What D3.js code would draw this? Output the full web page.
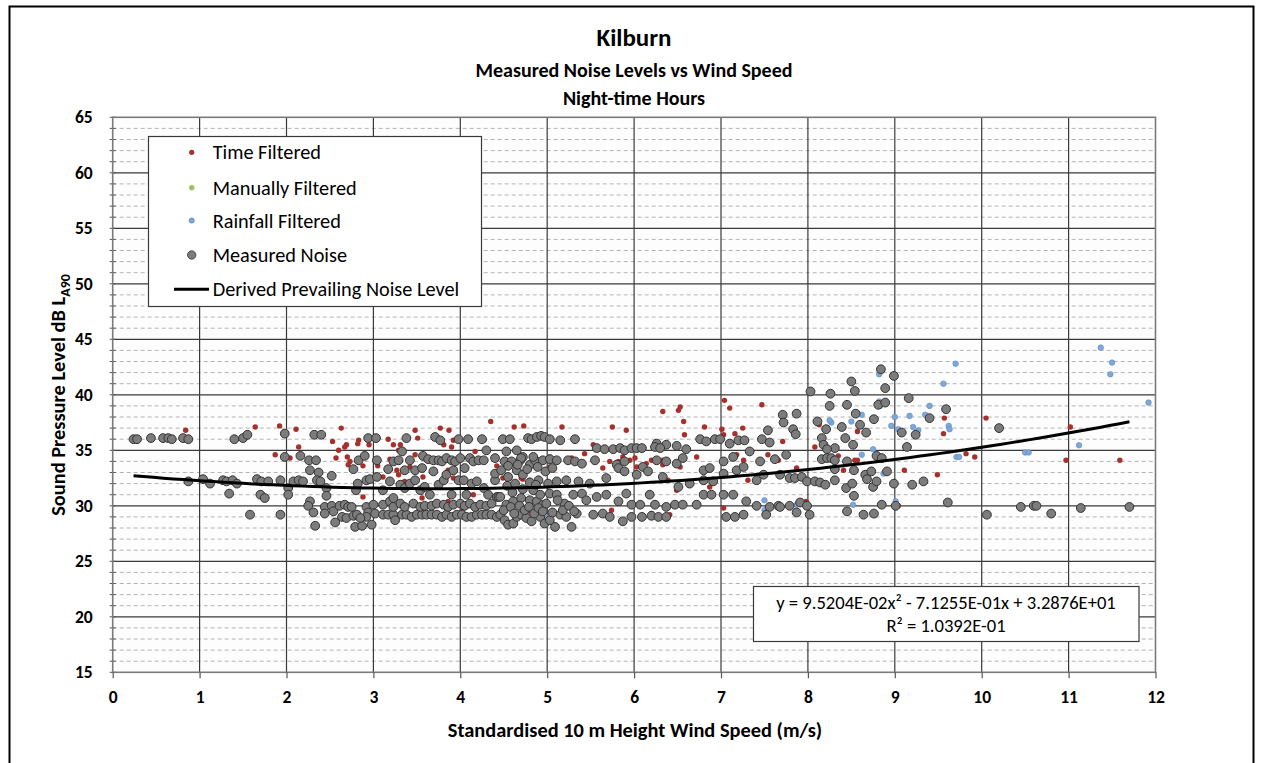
<!DOCTYPE html>
<html>
<head>
<meta charset="utf-8">
<script src="https://cdn.jsdelivr.net/npm/d3@7"></script>
<style>
  html, body { margin: 0; padding: 0; background: #fff; }
  svg { display: block; }
  text { font-family: Carlito, Calibri, Lato, "Open Sans", sans-serif; fill: #000; }
</style>
</head>
<body>
<svg id="chart" width="1263" height="763"></svg>
<script>
// ---- Chart text ----
const titleLines = ["Kilburn", "Measured Noise Levels vs Wind Speed", "Night-time Hours"];
const xAxisTitle = "Standardised 10 m Height Wind Speed (m/s)";
const yAxisTitle = "Sound Pressure Level dB L";
const yAxisSub = "A90";
const xTicks = [0, 1, 2, 3, 4, 5, 6, 7, 8, 9, 10, 11, 12];
const yTicks = [15, 20, 25, 30, 35, 40, 45, 50, 55, 60, 65];
const seriesNames = ["Time Filtered", "Manually Filtered", "Rainfall Filtered", "Measured Noise", "Derived Prevailing Noise Level"];

// Fitted polynomial for the prevailing level: a*x^2 + b*x + c
const fitCoeffs = [9.5204e-02, -7.1255e-01, 3.2876e+01];
const fitR2 = 1.0392e-01;
const fitLabel = ["y = 9.5204E-02x\u00b2 - 7.1255E-01x + 3.2876E+01", "R\u00b2 = 1.0392E-01"];

// ---- Data: [wind speed (m/s), LA90 (dB)] ----
const timeFiltered = [
  [0.84,36.8],[1.64,37.1],[1.92,37.2],[2.11,36.9],[2.14,35.3],[1.87,34.6],[2.04,34.3],[2.63,37.0],[2.53,35.8],
  [2.69,35.5],[2.67,35.3],[2.60,35.0],[2.83,35.9],[2.82,35.6],[2.57,34.3],[2.70,34.4],[2.73,34.0],[2.71,33.7],
  [2.88,33.6],[2.95,35.5],[3.05,33.6],[3.11,32.6],[3.17,36.0],[3.23,35.5],[3.31,35.5],[3.29,35.0],[3.19,34.2],
  [3.27,33.2],[3.29,32.8],[3.48,36.8],[3.51,36.1],[3.48,34.6],[3.36,32.2],[3.42,33.5],[3.57,32.6],[3.77,37.0],
  [3.87,36.8],[3.81,35.5],[3.90,35.3],[3.81,34.1],[3.86,33.2],[3.92,32.5],[4.17,34.9],[4.35,37.6],[4.27,35.9],
  [4.42,33.6],[2.88,30.8],[3.56,30.7],[3.65,30.1],[3.86,30.4],[4.02,29.5],[4.07,31.1],[4.15,31.0],[3.19,33.3],
  [3.92,35.9],
  [4.62,37.1],[4.73,37.2],[5.17,37.1],[5.75,37.1],[5.91,36.8],[6.33,38.5],[6.51,38.6],[6.53,38.9],[6.57,37.6],
  [7.04,39.5],[7.10,38.8],[7.47,39.1],[6.81,37.1],[7.16,36.5],[7.25,37.0],[6.58,36.4],[7.01,36.9],[4.49,32.5],
  [4.70,32.5],[4.80,32.3],[5.03,34.4],[5.11,34.1],[5.28,34.3],[5.43,34.7],[5.53,35.5],[5.64,33.4],[5.72,34.0],
  [5.82,34.0],[5.87,34.4],[5.95,34.1],[6.01,34.3],[6.03,33.5],[6.14,33.8],[6.20,34.1],[6.33,34.1],[6.33,33.7],
  [6.39,32.3],[6.49,31.4],[6.53,33.5],[6.72,34.4],[6.87,31.7],[7.03,36.4],[7.18,34.6],[7.26,34.1],[7.31,32.3],
  [7.54,34.6],[7.66,34.1],[7.03,29.8],[5.74,29.6],[6.20,29.3],[6.41,29.2],[5.15,29.3],[5.20,29.0],[4.80,29.5],
  [4.72,32.4],[5.03,33.5],
  [9.57,37.9],[10.05,37.9],[9.56,36.5],[9.82,34.7],[9.92,34.4],[11.02,37.1],[10.97,34.1],[11.59,34.1],[9.11,33.2],
  [9.49,32.8],[8.57,36.7],[8.54,34.1],[8.57,34.1],[7.71,35.8],[8.08,35.3],[8.41,33.2],[8.35,34.5],[8.13,37.3],
  [7.98,30.4],[9.04,30.0],[7.87,33.4]
];

const manuallyFiltered = [];

const rainfallFiltered = [
  [5.00,28.9],[7.50,30.5],[7.50,29.6],[7.87,30.1],[8.82,41.85],[9.70,42.8],[9.56,41.0],[11.37,44.25],[11.50,42.9],
  [11.48,41.85],[11.92,39.3],[9.40,39.0],[9.35,38.2],[9.39,37.9],[9.17,38.1],[9.00,38.0],[8.96,37.2],[9.04,36.9],
  [9.21,37.1],[9.27,36.8],[9.62,37.2],[9.63,36.9],[8.82,39.4],[8.83,39.0],[8.62,38.2],[8.50,37.6],[8.27,37.5],
  [8.25,37.7],[8.75,35.1],[8.62,34.6],[8.87,32.9],[9.01,30.4],[8.52,30.1],[9.71,34.4],[9.74,34.4],[10.50,34.8],
  [10.54,34.8],[11.12,35.45]
];

const measuredNoise = [
  [0.24,36.0],[0.28,36.0],[0.44,36.1],[0.58,36.1],[0.64,36.1],[0.68,36.0],[0.81,36.1],[0.87,36.0],
  [1.40,36.0],[1.50,36.1],[1.55,36.4],[1.98,36.5],[1.98,34.4],[2.16,34.5],[2.26,34.1],[2.34,34.1],
  [2.32,36.4],[2.40,36.4],[2.94,36.1],[3.03,36.1],[3.38,36.1],[3.71,36.2],[3.77,35.9],[3.98,36.0],[4.09,36.0],[4.25,36.0],
  [0.87,32.2],[1.04,32.4],[1.12,32.0],[1.27,32.3],[1.31,32.2],[1.38,32.3],[1.43,32.0],[1.34,31.1],[1.66,32.4],
  [1.71,32.2],[1.79,32.2],[1.70,31.0],[1.75,30.7],[1.58,29.2],[1.93,32.3],[2.02,31.6],[2.02,31.0],[2.08,32.2],
  [2.14,32.3],[2.19,32.2],[1.93,29.2],
  [2.27,33.2],[2.37,33.0],[2.35,32.3],[2.39,32.2],[2.46,31.6],[2.46,30.9],[2.52,32.7],
  [2.27,30.4],[2.25,30.0],[2.31,29.4],[2.33,28.2],[2.44,29.9],[2.44,29.3],[2.52,30.0],[2.54,29.5],[2.56,28.5],
  [2.61,30.0],[2.64,29.0],[2.67,30.1],[2.71,29.9],[2.69,28.9],[2.75,29.9],[2.77,29.1],[2.79,28.1],[2.87,28.2],
  [2.92,29.9],[2.94,29.4],[2.98,28.3],[3.00,30.1],[3.02,29.3],[2.92,29.0],[2.81,29.2],[2.85,28.9],
  [2.80,31.4],[2.82,32.0],[2.83,34.1],[2.90,34.5],[2.92,32.3],[2.96,32.4],[3.04,32.6],[3.04,34.1],[2.77,33.3],
  [3.11,29.2],[3.17,29.2],[3.23,29.2],[3.25,28.7],[3.33,29.2],[3.38,29.2],[3.44,29.0],[3.50,29.2],[3.56,29.2],
  [3.61,29.2],[3.67,29.2],[3.73,29.2],[3.79,29.0],[3.84,29.2],[3.90,29.0],[3.96,29.2],[4.02,29.2],[4.07,29.0],
  [4.13,29.0],[4.19,29.2],[4.25,29.2],[4.30,29.2],[4.36,29.2],[4.42,29.0],
  [3.11,30.1],[3.19,30.4],[3.23,29.9],[3.31,30.2],[3.36,29.9],[3.46,30.2],[3.54,29.9],[3.59,30.0],[3.67,30.0],
  [3.73,30.2],[3.81,30.1],[3.86,29.9],[3.92,30.1],[4.00,30.2],[4.05,30.0],[4.11,30.2],[4.17,29.9],[4.23,30.1],
  [4.30,30.0],[4.36,30.2],[4.42,30.8],
  [3.11,31.4],[3.19,32.2],[3.23,30.7],[3.31,31.9],[3.36,31.6],[3.42,32.0],[3.48,32.3],[3.54,31.4],[3.59,31.7],
  [3.65,31.0],[3.69,33.1],[3.75,31.9],[3.81,32.3],[3.84,32.8],[3.90,31.0],[3.92,33.2],[3.98,32.3],[4.04,32.3],
  [4.07,31.0],[4.13,32.0],[4.19,32.2],[4.27,31.6],[4.32,31.0],[4.40,32.3],[4.44,30.8],
  [3.17,33.3],[3.23,34.0],[3.29,34.1],[3.33,34.9],[3.36,33.2],[3.42,34.1],[3.48,33.2],[3.56,33.4],[3.57,34.5],
  [3.63,34.2],[3.69,34.1],[3.75,34.1],[3.79,34.0],[3.84,34.3],[3.90,34.1],[3.94,34.0],[4.00,34.3],[4.05,33.4],
  [4.11,34.3],[4.15,34.0],[4.21,34.1],[4.27,34.1],[4.30,35.0],[4.40,34.3],[4.40,32.9],
  [4.49,36.0],[4.57,36.0],[4.78,36.1],[4.82,36.0],[4.88,36.2],[4.93,36.3],[4.97,36.2],[5.03,36.0],[5.15,35.9],
  [5.32,36.0],[6.26,35.6],[6.37,35.5],[6.49,35.4],[6.76,36.0],[6.83,35.8],[6.93,36.0],[6.99,36.0],[7.10,35.6],
  [7.20,35.9],[7.27,35.9],[7.47,36.0],[7.56,35.7],[7.54,36.8],
  [5.57,35.2],[5.66,35.1],[5.76,35.1],[5.84,35.2],[5.89,35.0],[5.97,35.2],[6.03,35.2],[6.09,35.2],[6.24,35.3],
  [6.30,35.2],[6.60,35.1],[4.53,34.9],[4.65,35.0],
  [4.51,34.0],[4.59,34.0],[4.69,34.1],[4.72,34.4],[4.80,33.7],[4.86,34.1],[4.95,34.1],[5.03,34.2],[5.11,34.1],
  [5.24,34.1],[5.32,34.0],[5.40,33.8],[5.55,34.1],[5.80,33.7],[5.89,34.0],[6.10,33.5],[6.26,34.1],[6.37,34.0],
  [6.49,33.8],[6.56,34.3],[6.80,33.2],[6.87,33.4],[7.03,34.0],[7.14,34.4],[7.33,34.9],[7.45,34.0],[7.62,34.2],
  [4.70,34.3],[4.84,34.4],
  [4.47,33.2],[4.55,32.6],[4.65,33.2],[4.72,32.8],[4.90,32.3],[5.01,32.0],[5.11,32.2],[5.22,32.3],[5.36,32.2],
  [5.49,32.0],[5.68,32.5],[5.82,33.4],[5.89,33.1],[6.03,32.8],[6.16,33.1],[6.33,32.6],[6.51,31.7],[6.64,32.0],
  [6.80,32.3],[6.91,32.2],[7.03,32.9],[7.18,33.2],[7.26,33.5],[7.41,32.3],[7.49,32.8],
  [4.46,30.8],[4.53,30.1],[4.61,30.4],[4.70,30.7],[4.80,30.5],[4.88,30.4],[4.95,30.1],[5.03,31.1],[5.11,31.0],
  [5.20,30.2],[5.30,31.0],[5.40,31.1],[5.45,30.5],[5.57,30.8],[5.68,31.0],[5.82,30.4],[5.91,31.1],[5.97,30.1],
  [6.07,30.1],[6.18,31.0],[6.24,30.1],[6.37,29.9],[6.47,30.1],[6.56,30.1],[6.72,30.1],[6.80,31.0],[6.89,31.0],
  [7.03,31.0],[7.14,31.0],[7.29,30.4],[7.41,30.0],[7.56,29.9],[7.66,30.0],
  [4.46,29.2],[4.51,28.7],[4.55,28.3],[4.61,28.4],[4.65,29.0],[4.70,29.2],[4.76,28.9],[4.82,28.6],[4.92,29.0],
  [4.97,28.4],[5.03,28.7],[5.09,28.1],[5.15,29.2],[5.22,29.0],[5.28,28.1],[5.34,29.3],[5.53,29.2],[5.64,29.3],
  [5.72,29.0],[5.87,28.6],[5.97,29.0],[6.09,29.0],[6.20,29.1],[6.28,29.0],[6.37,29.0],[7.06,29.0],[7.16,29.0],
  [7.26,29.2],[7.52,29.2],
  [4.50,29.6],[4.58,29.9],[4.62,29.3],[4.68,30.0],[4.74,29.6],[4.79,29.9],[4.85,29.3],[4.90,29.8],[4.95,29.5],
  [4.99,30.2],[4.60,31.2],[4.72,31.5],[4.84,31.4],[4.92,31.0],[4.55,33.6],[4.66,33.7],[4.77,33.3],[4.89,33.5],
  [4.98,33.1],[5.06,33.4],[5.12,30.5],[5.18,29.6],[5.25,30.0],[5.31,29.5],[5.06,29.4],[4.54,31.8],[4.63,32.0],
  [4.80,32.1],[4.87,31.9],
  [8.84,42.3],[8.99,41.7],[8.50,41.2],[8.54,40.35],[8.03,40.3],[8.26,40.1],[8.89,40.6],[9.16,39.7],[8.25,39.0],
  [8.45,39.1],[8.81,39.1],[8.89,39.3],[8.55,38.3],[7.87,38.3],[7.71,38.2],[8.76,37.8],[8.11,37.6],[8.39,37.1],
  [8.60,37.3],[7.72,37.5],[7.83,36.9],[7.86,36.45],[8.21,36.9],[8.67,36.6],[9.08,36.6],[9.24,36.4],[9.40,37.9],
  [9.59,38.7],[10.20,37.0],[8.16,36.1],[8.18,35.5],[8.31,35.2],[8.22,35.1],[8.43,36.1],[8.52,35.5],[9.14,35.3],
  [7.75,34.6],[8.16,34.2],[8.22,34.3],[8.27,34.3],[8.31,34.1],[8.45,34.0],[8.79,34.5],[8.85,34.3],[8.53,33.2],
  [8.66,32.8],[8.73,33.1],[8.91,33.1],[8.31,33.3],[7.68,32.8],[7.79,32.5],[7.85,32.5],[7.93,32.6],[7.99,32.2],
  [8.08,32.2],[8.14,32.1],[8.20,31.9],[8.31,32.3],[8.44,31.6],[8.51,32.0],[8.68,32.4],[8.75,31.7],[8.79,32.2],
  [8.99,32.0],[9.20,31.9],[9.33,32.2],[8.53,30.9],[7.68,29.9],[7.79,30.0],[7.87,29.4],[7.91,30.3],[7.99,30.0],
  [8.02,29.2],[8.45,29.5],[8.64,29.2],[8.76,29.3],[8.85,30.1],[9.01,30.0],[9.61,30.3],[10.06,29.2],[10.45,29.9],
  [10.60,30.0],[10.63,30.0],[10.80,29.3],[11.14,29.8],[11.70,29.9]
];

// ---- Layout ----
const svg = d3.select("#chart");
const plot = { left: 112.7, right: 1155.5, top: 117.3, bottom: 672.3 };
const x = d3.scaleLinear().domain([0, 12]).range([plot.left, plot.right]);
const y = d3.scaleLinear().domain([15, 65]).range([plot.bottom, plot.top]);

// outer chart frame
svg.append("rect").attr("x", 9.5).attr("y", 6.5).attr("width", 1244).attr("height", 800)
  .attr("fill", "#fff").attr("stroke", "#000").attr("stroke-width", 2);

// plot background
svg.append("rect").attr("x", plot.left).attr("y", plot.top)
  .attr("width", plot.right - plot.left).attr("height", plot.bottom - plot.top)
  .attr("fill", "#fdfdfd");

// minor horizontal gridlines (every 1 dB)
const minorY = d3.range(16, 65).filter(v => v % 5 !== 0);
svg.append("g").selectAll("line").data(minorY).join("line")
  .attr("x1", plot.left).attr("x2", plot.right)
  .attr("y1", d => y(d)).attr("y2", d => y(d))
  .attr("stroke", "#b4b4b4").attr("stroke-width", 1).attr("stroke-dasharray", "4,3");

// major horizontal gridlines
svg.append("g").selectAll("line").data(yTicks.slice(1, -1)).join("line")
  .attr("x1", plot.left).attr("x2", plot.right)
  .attr("y1", d => y(d)).attr("y2", d => y(d))
  .attr("stroke", "#3a3a3a").attr("stroke-width", 1.2);

// vertical gridlines
svg.append("g").selectAll("line").data(xTicks.slice(1, -1)).join("line")
  .attr("x1", d => x(d)).attr("x2", d => x(d))
  .attr("y1", plot.top).attr("y2", plot.bottom)
  .attr("stroke", "#3a3a3a").attr("stroke-width", 1.2);

// minor ticks crossing the value axis
svg.append("g").selectAll("line").data(d3.range(15, 66)).join("line")
  .attr("x1", plot.left - 3).attr("x2", plot.left + 3)
  .attr("y1", d => y(d)).attr("y2", d => y(d))
  .attr("stroke", "#555").attr("stroke-width", 1);

// plot border
svg.append("rect").attr("x", plot.left).attr("y", plot.top)
  .attr("width", plot.right - plot.left).attr("height", plot.bottom - plot.top)
  .attr("fill", "none").attr("stroke", "#7a7a7a").attr("stroke-width", 1.6);

// axes
const xAxis = svg.append("g").attr("transform", `translate(0,${plot.bottom})`)
  .call(d3.axisBottom(x).tickValues(xTicks).tickSize(6).tickPadding(12).tickFormat(d3.format("d")));
xAxis.select(".domain").remove();
xAxis.selectAll(".tick line").attr("stroke", "#555").attr("stroke-width", 1.2);
xAxis.selectAll("text").attr("font-size", 17.5).attr("font-weight", "bold").attr("font-family", null);

const yAxis = svg.append("g").attr("transform", `translate(${plot.left},0)`)
  .call(d3.axisLeft(y).tickValues(yTicks).tickSize(0).tickPadding(20).tickFormat(d3.format("d")));
yAxis.select(".domain").remove();
yAxis.selectAll("text").attr("font-size", 17.5).attr("font-weight", "bold").attr("font-family", null);

// titles
const titleY = [46, 77, 105];
const titleSize = [25, 20, 20];
titleLines.forEach((t, i) => {
  svg.append("text").attr("x", 634).attr("y", titleY[i]).attr("text-anchor", "middle")
    .attr("font-size", titleSize[i]).attr("font-weight", "bold").text(t);
});

svg.append("text").attr("x", 635).attr("y", 737).attr("text-anchor", "middle")
  .attr("font-size", 20.4).attr("font-weight", "bold").text(xAxisTitle);

const yt = svg.append("text").attr("transform", "translate(65,395) rotate(-90)")
  .attr("text-anchor", "middle").attr("font-size", 20.4).attr("font-weight", "bold");
yt.append("tspan").text(yAxisTitle);
yt.append("tspan").attr("font-size", 14).attr("dy", 5).text(yAxisSub);

// ---- series ----
const red = "#a5312d", green = "#9bbb59", blue = "#80a8d6", grey = "#7c7c7c";

svg.append("g").selectAll("circle").data(timeFiltered).join("circle")
  .attr("cx", d => x(d[0])).attr("cy", d => y(d[1])).attr("r", 2.7).attr("fill", red);

svg.append("g").selectAll("circle").data(manuallyFiltered).join("circle")
  .attr("cx", d => x(d[0])).attr("cy", d => y(d[1])).attr("r", 2.7).attr("fill", green);

svg.append("g").selectAll("circle").data(rainfallFiltered).join("circle")
  .attr("cx", d => x(d[0])).attr("cy", d => y(d[1])).attr("r", 2.8)
  .attr("fill", blue).attr("stroke", "#5e8cc2").attr("stroke-width", 0.6);

svg.append("g").selectAll("circle").data(measuredNoise).join("circle")
  .attr("cx", d => x(d[0])).attr("cy", d => y(d[1])).attr("r", 4.4)
  .attr("fill", grey).attr("stroke", "#333").attr("stroke-width", 1);

// prevailing noise level curve, over the measured wind-speed range
const xs = measuredNoise.map(d => d[0]);
const fitDomain = d3.extent(xs);
const fitPts = d3.range(0, 101).map(i => {
  const v = fitDomain[0] + (fitDomain[1] - fitDomain[0]) * i / 100;
  return [v, fitCoeffs[0] * v * v + fitCoeffs[1] * v + fitCoeffs[2]];
});
svg.append("path").datum(fitPts)
  .attr("d", d3.line().x(d => x(d[0])).y(d => y(d[1])).curve(d3.curveLinear))
  .attr("fill", "none").attr("stroke", "#000").attr("stroke-width", 3);

// ---- legend ----
const lg = svg.append("g");
lg.append("rect").attr("x", 148.5).attr("y", 136.5).attr("width", 333).attr("height", 170)
  .attr("fill", "#fff").attr("stroke", "#3a3a3a").attr("stroke-width", 1.2);
const legRows = [152.3, 187.7, 220.5, 255, 289.3];
const legMarkers = [
  { r: 2.6, fill: red, stroke: "none" },
  { r: 2.6, fill: green, stroke: "#c5d9a0" },
  { r: 2.6, fill: blue, stroke: "#5e8cc2" },
  { r: 4.2, fill: grey, stroke: "#333" }
];
legMarkers.forEach((m, i) => {
  lg.append("circle").attr("cx", 191.7).attr("cy", legRows[i]).attr("r", m.r)
    .attr("fill", m.fill).attr("stroke", m.stroke).attr("stroke-width", 0.8);
});
lg.append("line").attr("x1", 174).attr("x2", 209).attr("y1", legRows[4]).attr("y2", legRows[4])
  .attr("stroke", "#000").attr("stroke-width", 3);
seriesNames.forEach((n, i) => {
  lg.append("text").attr("x", 212.7).attr("y", legRows[i]).attr("dy", "0.35em")
    .attr("font-size", 20.3).text(n);
});

// ---- regression label ----
const eq = svg.append("g");
eq.append("rect").attr("x", 753.5).attr("y", 586.5).attr("width", 385.5).attr("height", 55)
  .attr("fill", "#fff").attr("stroke", "#3a3a3a").attr("stroke-width", 1.2);
fitLabel.forEach((t, i) => {
  eq.append("text").attr("x", 946).attr("y", [602.7, 625][i]).attr("dy", "0.35em")
    .attr("text-anchor", "middle").attr("font-size", 18.6).text(t);
});
</script>
</body>
</html>
